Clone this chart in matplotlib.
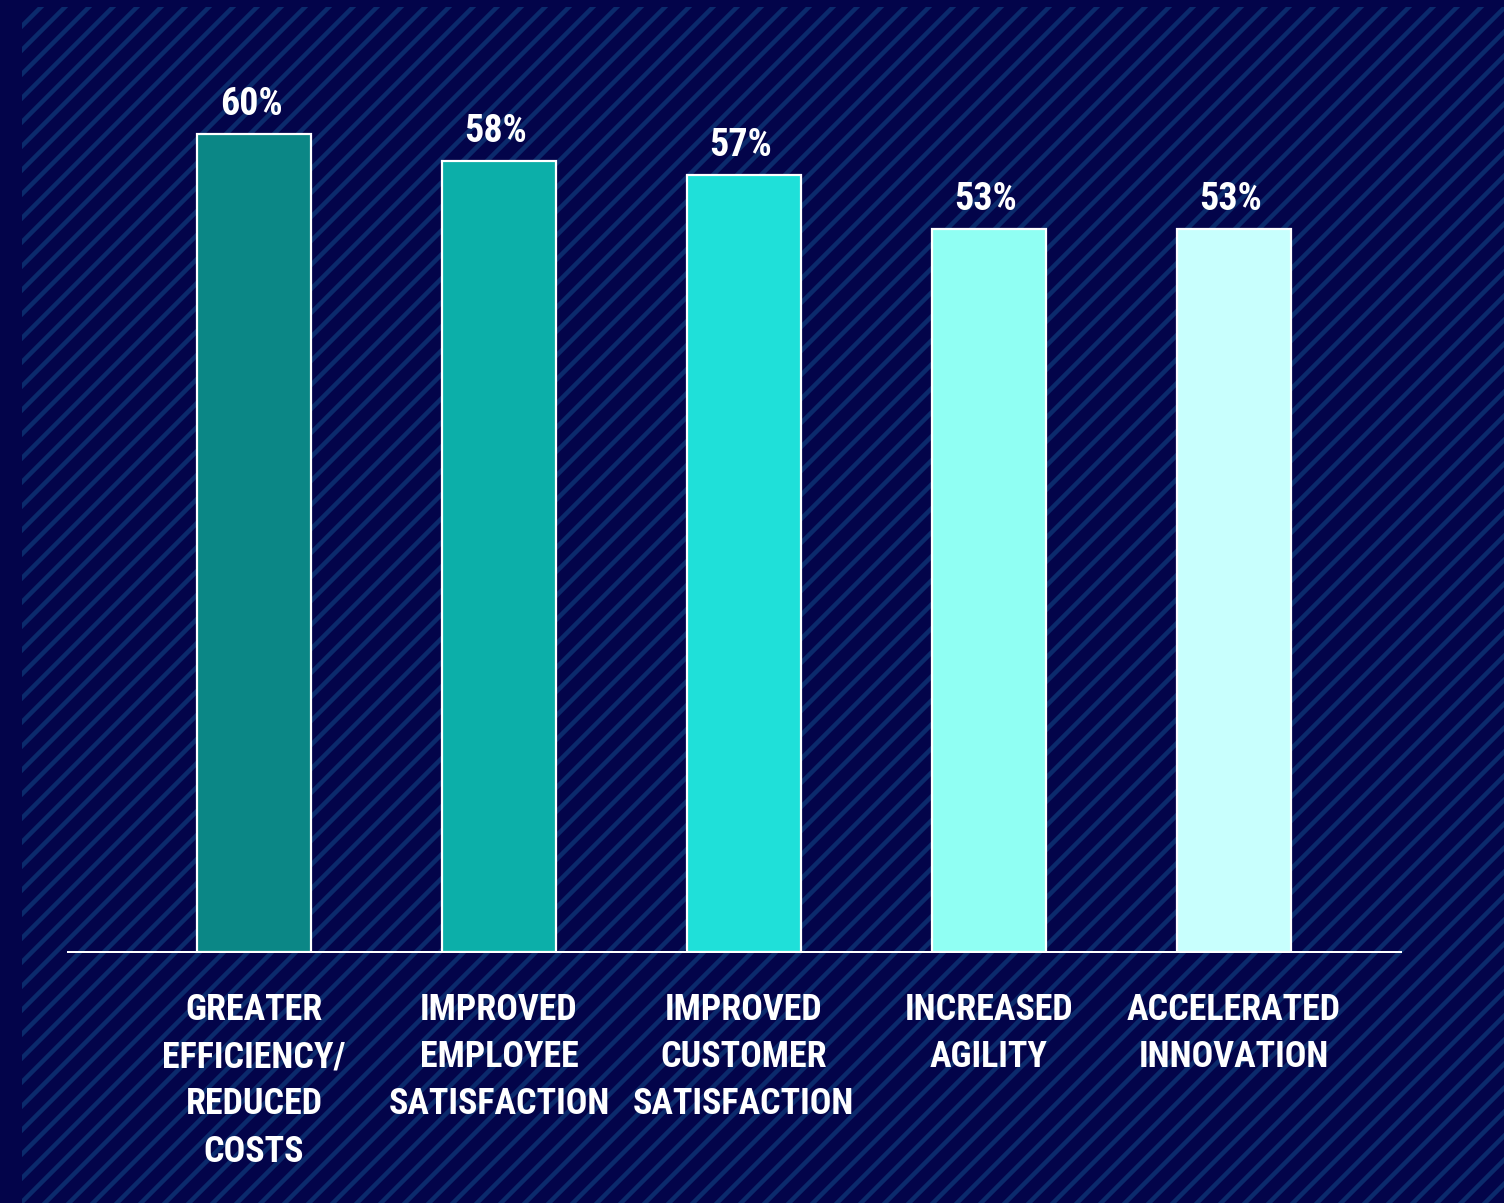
import matplotlib
matplotlib.use("Agg")
import matplotlib.pyplot as plt
from matplotlib.patches import Rectangle

# Survey results: share of respondents citing each benefit
categories = [
    "GREATER\nEFFICIENCY/\nREDUCED\nCOSTS",
    "IMPROVED\nEMPLOYEE\nSATISFACTION",
    "IMPROVED\nCUSTOMER\nSATISFACTION",
    "INCREASED\nAGILITY",
    "ACCELERATED\nINNOVATION",
]
values = [60, 58, 57, 53, 53]
value_labels = ["60%", "58%", "57%", "53%", "53%"]
bar_colors = ["#0b8786", "#0cafa9", "#1fe0d9", "#90fff3", "#c8fffd"]

NAVY = "#03044a"
STRIPE = "#0b2a6c"

FONT = ["Roboto Condensed", "Roboto", "DejaVu Sans"]
plt.rcParams["hatch.linewidth"] = 4.5

DPI = 72
W, H = 1504, 1203
fig = plt.figure(figsize=(W / DPI, H / DPI), dpi=DPI)
fig.patch.set_facecolor(NAVY)

# striped backdrop, leaving a plain margin on the left and top
fig.patches.append(Rectangle((22 / W, 0), 1 - 22 / W, 1 - 7 / H,
                             transform=fig.transFigure, facecolor=NAVY,
                             edgecolor=STRIPE, hatch="/", linewidth=0,
                             zorder=-5))

left, right = 68 / W, 1401 / W
bottom, top = (H - 952) / H, (H - 7) / H
ax = fig.add_axes([left, bottom, right - left, top - bottom], zorder=2)
ax.set_facecolor("none")
ax.patch.set_alpha(0)

x = list(range(len(values)))
bars = ax.bar(x, values, width=0.465, color=bar_colors, edgecolor="white",
              linewidth=2.2, zorder=3)

ax.set_xlim(-0.759, 4.682)
ax.set_ylim(0, 69.3)

for xi, v, lab in zip(x, values, value_labels):
    ax.annotate(lab, (xi, v), xytext=(-3, 11), textcoords="offset pixels",
                ha="center", va="bottom", color="white", fontsize=38,
                fontweight="bold", family=FONT, fontstretch="condensed")

for s in ["top", "right", "left"]:
    ax.spines[s].set_visible(False)
ax.spines["bottom"].set_color("white")
ax.spines["bottom"].set_linewidth(2)
ax.spines["bottom"].set_zorder(4)

ax.set_yticks([])
ax.set_xticks(x)
ax.set_xticklabels(categories, color="white", fontsize=36, fontweight="bold",
                   family=FONT, fontstretch="condensed", linespacing=1.4)
ax.tick_params(axis="x", length=0, pad=40)

fig.savefig("out.png", dpi=DPI, facecolor=NAVY)
